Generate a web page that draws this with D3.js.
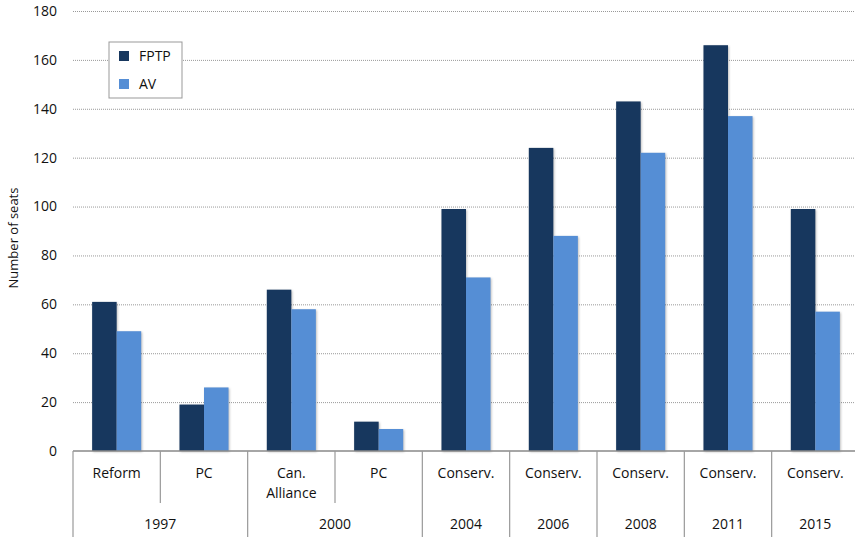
<!DOCTYPE html>
<html>
<head>
<meta charset="utf-8">
<script src="https://cdn.jsdelivr.net/npm/d3@7"></script>
<style>
  body { margin: 0; background: #fff; }
  text { font-family: "Open Sans", sans-serif; fill: #111; }
</style>
</head>
<body>
<div id="chart"></div>
<script>
const parties = ["Reform", "PC", "Can.\nAlliance", "PC", "Conserv.", "Conserv.", "Conserv.", "Conserv.", "Conserv."];
const years = ["1997", "1997", "2000", "2000", "2004", "2006", "2008", "2011", "2015"];
const fptp = [61, 19, 66, 12, 99, 124, 143, 166, 99];
const av = [49, 26, 58, 9, 71, 88, 122, 137, 57];
const seriesNames = ["FPTP", "AV"];
const yTicks = [0, 20, 40, 60, 80, 100, 120, 140, 160, 180];

const width = 855;
const height = 537;
const margin = { top: 11, right: -4, bottom: 86, left: 73 };

const colors = { FPTP: "#17375E", AV: "#558ED5" };

const rows = parties.map((p, i) => ({ i, party: p, year: years[i], FPTP: fptp[i], AV: av[i] }));

const svg = d3.select("#chart").append("svg")
  .attr("width", width)
  .attr("height", height);

const x = d3.scaleBand()
  .domain(rows.map(d => d.i))
  .range([margin.left, width - margin.right])
  .padding(0);

const xs = d3.scaleBand()
  .domain(seriesNames)
  .range([0, x.bandwidth()])
  .paddingInner(0)
  .paddingOuter(0.78);

const y = d3.scaleLinear()
  .domain([0, 180])
  .range([height - margin.bottom, margin.top]);

// gridlines
svg.append("g")
  .selectAll("line")
  .data(yTicks.filter(t => t > 0))
  .join("line")
  .attr("x1", margin.left)
  .attr("x2", width)
  .attr("y1", d => y(d) + 0.5)
  .attr("y2", d => y(d) + 0.5)
  .attr("stroke", "#999")
  .attr("stroke-dasharray", "1,1");

// y tick labels
svg.append("g")
  .selectAll("text")
  .data(yTicks)
  .join("text")
  .attr("x", margin.left - 16)
  .attr("y", d => y(d))
  .attr("dy", "0.35em")
  .attr("text-anchor", "end")
  .style("font-size", "14px")
  .text(d => d);

svg.append("text")
  .attr("transform", `translate(18,238) rotate(-90)`)
  .attr("text-anchor", "middle")
  .style("font-size", "13px")
  .text("Number of seats");

// bars
const groups = svg.append("g")
  .selectAll("g")
  .data(rows)
  .join("g")
  .attr("transform", d => `translate(${x(d.i)},0)`);

groups.selectAll("rect")
  .data(d => seriesNames.map(k => ({ key: k, value: d[k] })))
  .join("rect")
  .attr("x", d => xs(d.key))
  .attr("y", d => y(d.value))
  .attr("width", xs.bandwidth())
  .attr("height", d => y(0) - y(d.value))
  .attr("fill", d => colors[d.key])
  .style("filter", "drop-shadow(1px 1px 1px rgba(0,0,0,0.25))");

// x axis
const base = y(0);
svg.append("line")
  .attr("x1", margin.left).attr("x2", width)
  .attr("y1", base).attr("y2", base)
  .attr("stroke", "#888").attr("stroke-width", 1.3);

// category dividers
svg.append("g")
  .selectAll("line")
  .data(d3.range(rows.length + 1))
  .join("line")
  .attr("x1", i => i < rows.length ? x(i) : width - margin.right)
  .attr("x2", i => i < rows.length ? x(i) : width - margin.right)
  .attr("y1", base)
  .attr("y2", i => (i > 0 && i < rows.length && years[i] === years[i - 1]) ? base + 52 : height)
  .attr("stroke", "#999")
  .attr("stroke-width", 1.2);

// party labels
svg.append("g")
  .selectAll("text")
  .data(rows)
  .join("text")
  .attr("text-anchor", "middle")
  .style("font-size", "14px")
  .attr("x", d => x(d.i) + x.bandwidth() / 2)
  .attr("y", base + 27)
  .each(function(d) {
    d3.select(this).selectAll("tspan")
      .data(d.party.split("\n"))
      .join("tspan")
      .attr("x", x(d.i) + x.bandwidth() / 2)
      .attr("dy", (t, j) => j === 0 ? 0 : 20)
      .text(t => t);
  });

// year labels
const yearGroups = d3.groups(rows, d => d.year);
svg.append("g")
  .selectAll("text")
  .data(yearGroups)
  .join("text")
  .attr("text-anchor", "middle")
  .style("font-size", "14px")
  .attr("x", ([, g]) => (x(g[0].i) + x(g[g.length - 1].i) + x.bandwidth()) / 2)
  .attr("y", base + 78)
  .text(([yr]) => yr);

// legend
const legend = svg.append("g").attr("transform", "translate(109,42)");
legend.append("rect")
  .attr("width", 73).attr("height", 56)
  .attr("fill", "#fff")
  .attr("stroke", "#999");

seriesNames.forEach((k, i) => {
  const g = legend.append("g").attr("transform", `translate(10,${9 + i * 28})`);
  g.append("rect")
    .attr("width", 10).attr("height", 10)
    .attr("fill", colors[k]);
  g.append("text")
    .attr("x", 20)
    .attr("y", 5)
    .attr("dy", "0.35em")
    .style("font-size", "14px")
    .text(k);
});
</script>
</body>
</html>
